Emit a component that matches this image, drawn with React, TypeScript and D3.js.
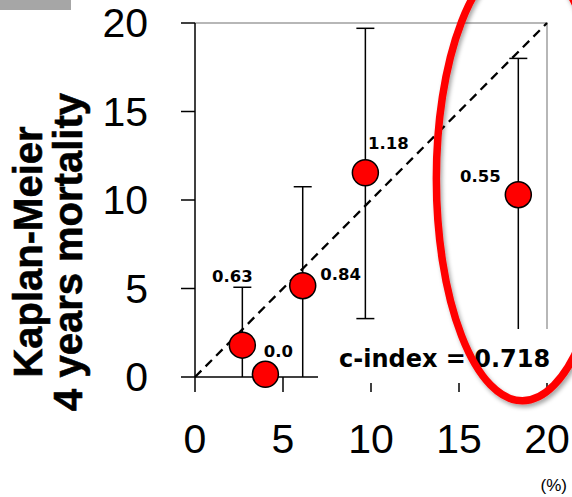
import React, { useEffect, useRef } from "react";
import { select, scaleLinear, line } from "d3";

// predicted (%) vs observed Kaplan-Meier 4y mortality
const predicted = [2.69, 4.0, 6.12, 9.68, 18.37];
const observed = [1.8, 0.15, 5.16, 11.54, 10.3];
const ciLow = [0, 0.15, 0, 3.3, 0];
const ciHigh = [5.07, 0.15, 10.75, 19.7, 18.0];
const pointLabels = ["0.63", "0.0", "0.84", "1.18", "0.55"];
const tickValues = [0, 5, 10, 15, 20];
const cIndex = "c-index = 0.718";
const yTitle = ["Kaplan-Meier", "4 years mortality"];

// label offsets from the marker centre (px)
const labelDx = [-10, 13, 38, 23, -38];
const labelDy = [-63, -17, -6, -24, -13];

const W = 572;
const H = 497;
const numFont = "'Liberation Sans', Arial, sans-serif";
const boldFont = "'DejaVu Sans', Verdana, sans-serif";

const App = () => {
  const svgRef = useRef(null);

  useEffect(() => {
    const svg = select(svgRef.current);
    svg.selectAll("*").remove();

    const x = scaleLinear().domain([0, 20]).range([195, 547]);
    const y = scaleLinear().domain([0, 20]).range([377, 23]);

    const defs = svg.append("defs");
    const f = defs.append("filter").attr("id", "shadow").attr("x", "-20%").attr("y", "-20%").attr("width", "140%").attr("height", "140%");
    f.append("feDropShadow").attr("dx", 2).attr("dy", 3).attr("stdDeviation", 2).attr("flood-color", "#000").attr("flood-opacity", 0.35);

    // little grey tab top-left
    svg.append("rect").attr("x", 0).attr("y", 0).attr("width", 71).attr("height", 10).attr("fill", "#a6a6a6");

    // plot border (top/right grey)
    svg.append("path")
      .attr("d", `M${x(0)},${y(20)}H${x(20)}V${y(0)}`)
      .attr("fill", "none").attr("stroke", "#a0a0a0").attr("stroke-width", 1.5);

    // axes
    const g = svg.append("g").attr("stroke", "#000").attr("stroke-width", 1.5);
    g.append("line").attr("x1", x(0)).attr("x2", x(0)).attr("y1", y(20)).attr("y2", y(0));
    g.append("line").attr("x1", x(0)).attr("x2", x(20)).attr("y1", y(0)).attr("y2", y(0));
    g.selectAll(".yt").data(tickValues).join("line").attr("class", "yt")
      .attr("x1", x(0) - 14).attr("x2", x(0)).attr("y1", d => y(d)).attr("y2", d => y(d));
    g.selectAll(".xt").data(tickValues).join("line").attr("class", "xt")
      .attr("x1", d => x(d)).attr("x2", d => x(d)).attr("y1", y(0)).attr("y2", y(0) + 15);

    svg.selectAll(".ylab").data(tickValues).join("text").attr("class", "ylab")
      .attr("x", 148).attr("y", d => y(d) + 14)
      .attr("text-anchor", "end").attr("font-family", numFont).attr("font-size", 41)
      .text(d => d);
    svg.selectAll(".xlab").data(tickValues).join("text").attr("class", "xlab")
      .attr("x", d => x(d)).attr("y", 453)
      .attr("text-anchor", "middle").attr("font-family", numFont).attr("font-size", 41)
      .text(d => d);
    svg.append("text").attr("x", 567).attr("y", 491).attr("text-anchor", "end")
      .attr("font-family", numFont).attr("font-size", 17).text("(%)");

    // y title
    svg.selectAll(".ytitle").data(yTitle).join("text").attr("class", "ytitle")
      .attr("transform", (d, i) => `translate(${42 + i * 40},252) rotate(-90)`)
      .attr("text-anchor", "middle").attr("font-family", numFont).attr("font-weight", "bold").attr("font-size", 40)
      .attr("stroke", "#000").attr("stroke-width", 0.6)
      .text(d => d);

    // reference diagonal
    svg.append("path")
      .attr("d", line()([[x(0), y(0)], [x(20), y(20)]]))
      .attr("stroke", "#000").attr("stroke-width", 2.3).attr("stroke-dasharray", "9,6").attr("fill", "none");

    const idx = predicted.map((_, i) => i);

    // error bars
    const eb = svg.append("g").attr("stroke", "#000").attr("stroke-width", 1.5);
    eb.selectAll(".v").data(idx.filter(i => ciHigh[i] > ciLow[i])).join("line").attr("class", "v")
      .attr("x1", i => x(predicted[i])).attr("x2", i => x(predicted[i]))
      .attr("y1", i => y(ciLow[i])).attr("y2", i => y(ciHigh[i]));
    eb.selectAll(".cap").data(idx.filter(i => ciHigh[i] > ciLow[i])).join("line").attr("class", "cap")
      .attr("x1", i => x(predicted[i]) - 9).attr("x2", i => x(predicted[i]) + 9)
      .attr("y1", i => y(ciHigh[i])).attr("y2", i => y(ciHigh[i]));
    eb.selectAll(".capl").data(idx.filter(i => ciHigh[i] > ciLow[i] && ciLow[i] > 0)).join("line").attr("class", "capl")
      .attr("x1", i => x(predicted[i]) - 9).attr("x2", i => x(predicted[i]) + 9)
      .attr("y1", i => y(ciLow[i])).attr("y2", i => y(ciLow[i]));

    // markers
    svg.selectAll(".pt").data(idx).join("circle").attr("class", "pt")
      .attr("cx", i => x(predicted[i])).attr("cy", i => y(observed[i])).attr("r", 13)
      .attr("fill", "#ff0000").attr("stroke", "#000").attr("stroke-width", 1.5);

    svg.selectAll(".pl").data(idx).join("text").attr("class", "pl")
      .attr("x", i => x(predicted[i]) + labelDx[i]).attr("y", i => y(observed[i]) + labelDy[i])
      .attr("text-anchor", "middle").attr("font-family", boldFont).attr("font-weight", "bold").attr("font-size", 16.5)
      .text(i => pointLabels[i]);

    // c-index box (white background hides part of the axis)
    svg.append("rect").attr("x", 318).attr("y", 329).attr("width", W - 318).attr("height", 54).attr("fill", "#fff");
    svg.append("text").attr("x", 339).attr("y", 367)
      .attr("font-family", boldFont).attr("font-weight", "bold").attr("font-size", 24)
      .text(cIndex);

    // red highlight ellipse
    svg.append("ellipse")
      .attr("cx", x(18.6)).attr("cy", y(11.2)).attr("rx", 86).attr("ry", 222)
      .attr("fill", "none").attr("stroke", "#ff0000").attr("stroke-width", 7.5)
      .attr("filter", "url(#shadow)");
  }, []);

  return (
    <svg ref={svgRef} width={W} height={H} style={{ position: "absolute", left: 0, top: 0, background: "#fff" }} />
  );
};

export default App;
